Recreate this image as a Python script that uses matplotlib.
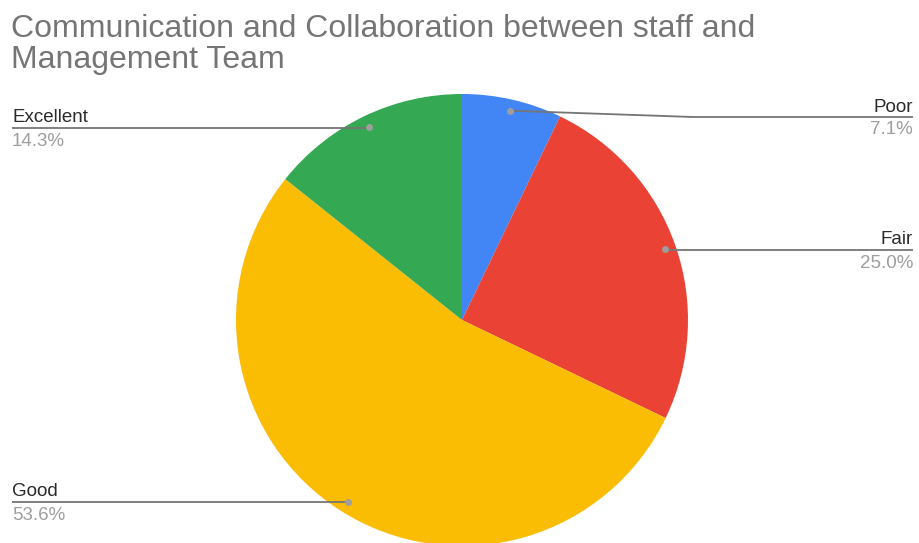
import numpy as np
import matplotlib
matplotlib.use('Agg')
import matplotlib.pyplot as plt

plt.rcParams['font.family'] = ['Liberation Sans', 'DejaVu Sans']

# 调查结果
labels = ['Poor', 'Fair', 'Good', 'Excellent']
counts = [2, 7, 15, 4]
colors = ['#4285F4', '#EA4335', '#FBBC04', '#34A853']
title_lines = ['Communication and Collaboration between staff and', 'Management Team']

W, H = 919, 543
cx, cy, R = 462, 320, 226

fig = plt.figure(figsize=(W / 100, H / 100), dpi=100)
ax = fig.add_axes([0, 0, 1, 1])

# y轴反向，counterclock=True 画出来就是顺时针
wedges, _ = ax.pie(counts, colors=colors, startangle=-90, counterclock=True,
                   center=(cx, cy), radius=R,
                   wedgeprops=dict(linewidth=0))
ax.set_xlim(0, W)
ax.set_ylim(H, 0)
ax.set_aspect('equal')
ax.axis('off')

for i, t in enumerate(title_lines):
    ax.text(11, 37 + i * 31, t, fontsize=23, color='#757575', va='baseline', ha='left')

total = float(sum(counts))
# 标签位置: (线的y, 拐点x, 终点x, 对齐)
label_pos = {
    'Poor': (117, 693, 913, 'right'),
    'Fair': (250, None, 913, 'right'),
    'Good': (502, None, 12, 'left'),
    'Excellent': (128, None, 12, 'left'),
}
for w, name, n in zip(wedges, labels, counts):
    mid = np.deg2rad((w.theta1 + w.theta2) / 2)
    dx = cx + 0.95 * R * np.cos(mid)
    dy = cy + 0.95 * R * np.sin(mid)
    ly, ex, endx, ha = label_pos[name]
    if ex is None:
        ex = dx
    ax.plot([dx, ex, endx], [dy, ly, ly], color='#757575', lw=1.3, solid_capstyle='butt')
    ax.plot(dx, dy, 'o', color='#9e9e9e', ms=5, mec='none')
    ax.text(endx, ly - 5.5, name, fontsize=13.5, color='#2a2a2a', ha=ha, va='baseline')
    ax.text(endx, ly + 17.5, '%.1f%%' % (n / total * 100), fontsize=13.5,
            color='#9e9e9e', ha=ha, va='baseline')

fig.savefig('out.png', dpi=100)
